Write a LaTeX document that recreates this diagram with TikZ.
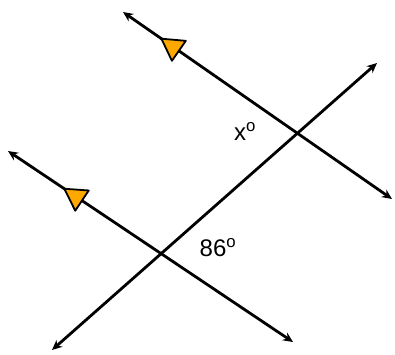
\documentclass[tikz,border=0pt]{standalone}
\usepackage{fontspec}
\setmainfont{Liberation Sans}
\usetikzlibrary{arrows.meta,decorations.markings}
\definecolor{flag}{RGB}{255,168,0}
\tikzset{
    line/.style={line width=2.8pt, <->},
    flagged/.style={postaction={decorate}, decoration={markings,
        mark=at position #1 with {\arrowreversed[line width=1.8pt]{Triangle[length=24pt,width=27pt,fill=flag,color=black,round]}}}},
    angle/.style={font=\fontsize{24}{28}\selectfont}
}
\begin{document}
\begin{tikzpicture}[>={Stealth[length=10pt,width=9pt]}, x=1pt, y=-1pt]
\useasboundingbox (0,0) rectangle (395,354);
% end points
\coordinate (a1) at (123,12);
\coordinate (a2) at (392,199);
\coordinate (b1) at (8,151);
\coordinate (b2) at (293,342);
\coordinate (t1) at (52,350);
\coordinate (t2) at (377,63);
% the two parallels and the transversal
\draw[line, flagged=.14](a1)--(a2);
\draw[line, flagged=.195](b1)--(b2);
\draw[line](t1)--(t2);
\node[angle] (x) at (245,131) {x\textsuperscript{o}};
\node[angle] (ang) at (218,248) {86\textsuperscript{o}};
\end{tikzpicture}
\end{document}
